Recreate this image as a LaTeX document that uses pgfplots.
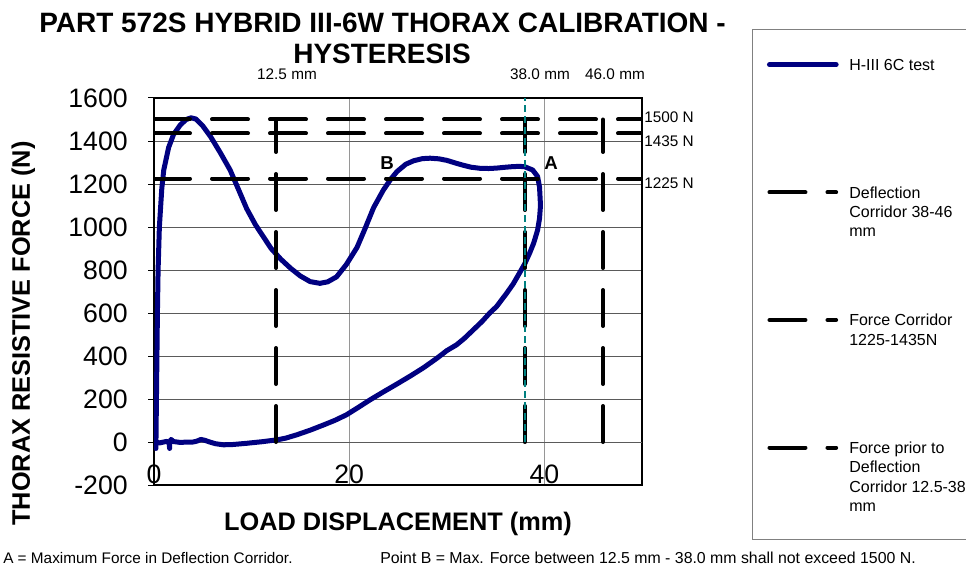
\documentclass[border=0pt]{standalone}
\usepackage{fontspec}
\setmainfont{Liberation Sans}
\usepackage{pgfplots}
\pgfplotsset{compat=1.18}
\definecolor{navyc}{RGB}{0,0,128}
\definecolor{tealc}{RGB}{0,128,128}
\definecolor{hgrid}{RGB}{90,90,90}
\definecolor{vgrid}{RGB}{150,150,150}
\definecolor{framec}{RGB}{128,128,128}
\begin{document}
\begin{tikzpicture}
\useasboundingbox (0,0) rectangle (724.5pt,426pt);
\begin{axis}[
  at={(115.5pt,62.25pt)}, anchor=south west,
  width=366pt, height=290.25pt, scale only axis,
  xmin=0, xmax=50, ymin=-200, ymax=1600,
  enlargelimits=false,
  xtick={0,20,40}, ytick={-200,0,...,1600},
  /pgf/number format/assume math mode=true,
  /pgf/number format/1000 sep={},
  tick label style={font=\fontsize{20}{24}\selectfont},
  tick pos=left, tick align=outside,
  major tick length=4.5pt,
  xtick style={draw=none},
  ytick style={black, line width=0.75pt},
  xticklabel style={anchor=base, inner sep=0pt, yshift=5.5pt},
  yticklabel style={anchor=east, inner sep=0pt, xshift=-15pt},
  ymajorgrids, xmajorgrids,
  y grid style={hgrid, line width=0.75pt},
  x grid style={vgrid, line width=0.75pt},
  extra y ticks={0}, extra y tick labels={},
  extra y tick style={grid=major, major grid style={black, line width=0.75pt}, tick style={draw=none}},
  axis line style={black, line width=1.5pt},
  xlabel={LOAD DISPLACEMENT (mm)},
  ylabel={THORAX RESISTIVE FORCE (N)},
  label style={font=\fontsize{19}{22}\selectfont\bfseries},
  xlabel style={at={(axis description cs:0.5,-0.1163)}, anchor=base},
  ylabel style={at={(axis description cs:-0.2541,0.3915)}, anchor=base},
  unbounded coords=jump,
  legend image code/.code={\draw[#1] (0pt,4.3pt) -- (50pt,4.3pt);},
  legend style={at={(axis description cs:1.2561,1.1127)}, anchor=north west,
    draw=none, fill=none, inner sep=0pt, outer sep=0pt,
    row sep=80.25pt, column sep=6pt,
    cells={anchor=base west, inner sep=0pt, text height=10pt, text depth=0pt},
    font=\fontsize{12}{14.5}\selectfont},
]
% H-III 6C test
\addplot[navyc, line width=3.75pt, line join=round, line cap=round] coordinates {
(0.2,-30) (0.2,0) (0.25,200) (0.3,400) (0.35,600) (0.42,800) (0.55,1000) (0.8,1180) (1.0,1265)
(1.5,1370) (2.0,1430) (2.7,1475) (3.3,1500) (3.8,1508) (4.3,1502) (5.0,1470) (5.8,1420)
(6.8,1345) (7.8,1265) (8.7,1170) (9.5,1085) (10.4,1010) (11.2,955) (12.0,900) (13.0,850)
(14.0,808) (15.0,772) (16.0,746) (17.0,738) (17.8,745) (18.7,768) (19.7,825) (20.8,905)
(21.6,990) (22.5,1090) (23.5,1172) (24.3,1225) (24.9,1258) (25.8,1292) (26.6,1308)
(27.5,1318) (28.3,1320) (29.2,1317) (30.0,1310) (31.0,1296) (31.7,1287) (32.5,1278)
(33.4,1273) (34.3,1272) (35.1,1274) (36.0,1278) (36.8,1281) (37.5,1282) (38.0,1280)
(38.8,1265) (39.3,1235) (39.5,1186) (39.6,1100) (39.5,1040) (39.3,985) (38.9,925)
(38.5,880) (38.0,830) (37.5,790) (36.8,735) (36.1,690) (35.1,630) (34.4,600) (33.6,560)
(32.7,521) (31.8,482) (31.0,452) (30.0,425) (29.0,390) (27.6,345) (26.3,308) (24.9,270)
(23.5,233) (22.1,195) (20.9,160) (19.7,126) (18.5,100) (17.3,78) (16.0,55) (14.6,33)
(13.5,18) (12.6,10) (11.0,1) (9.5,-6) (8.0,-12) (7.1,-13) (6.3,-8) (5.7,0) (5.2,8)
(4.8,12) (4.4,4) (4.0,0) (3.5,0) (2.7,-2) (2.0,2) (1.75,12) (1.62,0) (1.6,-30)
(1.55,-5) (1.3,3) (1.0,0) (0.6,-4) (0.3,-2)
};
\addlegendentry{\parbox[t]{115pt}{H-III 6C test}}
% Deflection corridor 38-46 mm
\addplot[black, line width=3pt, line cap=round, dash pattern=on 27pt off 16.5pt] coordinates {
(38,0) (38,1500) (42,nan) (46,0) (46,1500)
};
\addlegendentry{\parbox[t]{115pt}{Deflection\\Corridor 38-46\\mm}}
% Force corridor 1225-1435 N
\addplot[black, line width=3pt, line cap=round, dash pattern=on 27pt off 16.5pt] coordinates {
(0,1225) (50,1225) (25,nan) (0,1435) (50,1435)
};
\addlegendentry{\parbox[t]{115pt}{Force Corridor\\1225-1435N}}
% Force prior to deflection corridor
\addplot[black, line width=3pt, line cap=round, dash pattern=on 27pt off 16.5pt] coordinates {
(12.5,0) (12.5,1500) (25,nan) (0,1500) (50,1500)
};
\addlegendentry{\parbox[t]{115pt}{Force prior to\\Deflection\\Corridor 12.5-38\\mm}}
% 38 mm marker
\addplot[tealc, line width=1.1pt, dash pattern=on 5.25pt off 3pt, forget plot] coordinates {
(38,0) (38,1600)
};
\end{axis}
% legend frame
\draw[framec, line width=0.75pt] (564pt,21.75pt) rectangle (730pt,403.5pt);
% titles
\node[anchor=base, font=\fontsize{21}{24}\selectfont\bfseries, inner sep=0pt] at (286.9pt,401.25pt) {PART 572S HYBRID III-6W THORAX CALIBRATION -};
\node[anchor=base, font=\fontsize{21}{24}\selectfont\bfseries, inner sep=0pt] at (286.5pt,378pt) {HYSTERESIS};
% corridor labels
\node[anchor=base, font=\fontsize{11.5}{14}\selectfont, inner sep=0pt] at (215.25pt,366.4pt) {12.5 mm};
\node[anchor=base, font=\fontsize{11.5}{14}\selectfont, inner sep=0pt] at (405pt,366.4pt) {38.0 mm};
\node[anchor=base, font=\fontsize{11.5}{14}\selectfont, inner sep=0pt] at (461.25pt,366.4pt) {46.0 mm};
\node[anchor=base west, font=\fontsize{11.5}{14}\selectfont, inner sep=0pt] at (483pt,334.1pt) {1500 N};
\node[anchor=base west, font=\fontsize{11.5}{14}\selectfont, inner sep=0pt] at (483pt,316.1pt) {1435 N};
\node[anchor=base west, font=\fontsize{11.5}{14}\selectfont, inner sep=0pt] at (483pt,284.6pt) {1225 N};
\node[font=\fontsize{14}{16}\selectfont\bfseries, inner sep=0pt] at (413.25pt,303.75pt) {A};
\node[font=\fontsize{14}{16}\selectfont\bfseries, inner sep=0pt] at (290.25pt,303.75pt) {B};
% footnotes
\node[anchor=base west, font=\fontsize{11.5}{14}\selectfont, inner sep=0pt] at (2.25pt,3.75pt) {A = Maximum Force in Deflection Corridor.};
\node[anchor=base west, font=\fontsize{11.9}{14}\selectfont, inner sep=0pt] at (285pt,3.75pt) {Point B = Max. Force between 12.5 mm - 38.0 mm shall not exceed 1500 N.};
\end{tikzpicture}
\end{document}
